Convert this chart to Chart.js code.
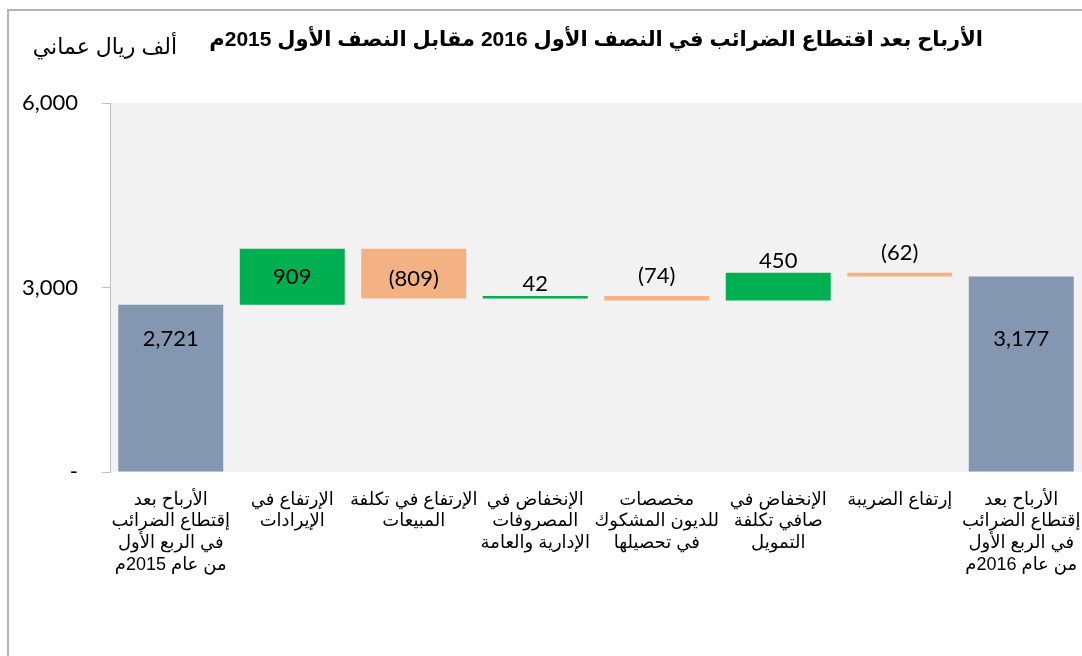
<!DOCTYPE html>
<html>
<head>
<meta charset="utf-8">
<script src="https://cdn.jsdelivr.net/npm/chart.js@4.4.1/dist/chart.umd.min.js"></script>
<style>
  html, body { margin: 0; padding: 0; background: #fff; }
  #wrap { position: relative; width: 1082px; height: 656px; }
</style>
</head>
<body>
<div id="wrap"><canvas id="chart" width="1082" height="656"></canvas></div>
<script>
const chartTitle = 'الأرباح بعد اقتطاع الضرائب في النصف الأول 2016 مقابل النصف الأول 2015م';
const unitLabel = 'ألف ريال عماني';

const categories = [
  ['الأرباح بعد', 'إقتطاع الضرائب', 'في الربع الأول', 'من عام 2015م'],
  ['الإرتفاع في', 'الإيرادات'],
  ['الإرتفاع في تكلفة', 'المبيعات'],
  ['الإنخفاض في', 'المصروفات', 'الإدارية والعامة'],
  ['مخصصات', 'للديون المشكوك', 'في تحصيلها'],
  ['الإنخفاض في', 'صافي تكلفة', 'التمويل'],
  ['إرتفاع الضريبة'],
  ['الأرباح بعد', 'إقتطاع الضرائب', 'في الربع الأول', 'من عام 2016م']
];
// 'total' bars start from zero, 'delta' bars float on the running total
const barKinds = ['total', 'delta', 'delta', 'delta', 'delta', 'delta', 'delta', 'total'];
const values = [2721, 909, -809, 42, -74, 450, -62, 3177];
const yTicks = [0, 3000, 6000];

const colors = { total: '#8497b0', up: '#00b050', down: '#f4b183' };

// floating ranges for the waterfall
let running = 0;
const ranges = values.map((v, i) => {
  if (barKinds[i] === 'total') { running = v; return [0, v]; }
  const from = running;
  running += v;
  return [from, running];
});
const barColors = values.map((v, i) =>
  barKinds[i] === 'total' ? colors.total : (v >= 0 ? colors.up : colors.down));

const fmt = v => {
  const s = Math.abs(v).toLocaleString('en-US');
  return v < 0 ? '(' + s + ')' : s;
};

const numFont = "Lato, 'Open Sans', sans-serif";
const arFont = "'Liberation Sans', 'DejaVu Sans', sans-serif";

const decorPlugin = {
  id: 'decor',
  beforeDraw(chart) {
    const { ctx, chartArea: a } = chart;
    ctx.save();
    ctx.fillStyle = '#f2f2f2';
    ctx.fillRect(a.left, a.top, a.right - a.left, a.bottom - a.top);
    // outer frame (left and top edges visible)
    ctx.strokeStyle = '#b3b3b3';
    ctx.lineWidth = 2;
    ctx.beginPath();
    ctx.moveTo(8, chart.height);
    ctx.lineTo(8, 10);
    ctx.lineTo(chart.width, 10);
    ctx.stroke();
    // title and unit
    ctx.fillStyle = '#000';
    ctx.textBaseline = 'middle';
    ctx.textAlign = 'right';
    ctx.font = "bold 21px " + arFont;
    ctx.fillText(chartTitle, 983, 40);
    ctx.font = "22px " + arFont;
    ctx.fillText(unitLabel, 177, 48);
    ctx.restore();
  },
  afterDatasetsDraw(chart) {
    const { ctx } = chart;
    const y = chart.scales.y;
    const meta = chart.getDatasetMeta(0);
    ctx.save();
    ctx.fillStyle = '#000';
    ctx.font = '22px ' + numFont;
    ctx.textAlign = 'center';
    ctx.textBaseline = 'middle';
    meta.data.forEach((bar, i) => {
      const top = Math.min(bar.y, bar.base);
      const h = Math.abs(bar.base - bar.y);
      let ly;
      if (barKinds[i] === 'total') ly = y.getPixelForValue(2170);
      else if (h >= 35) ly = top + h / 2 + (values[i] < 0 ? 5 : 0);
      else ly = top - (values[i] < 0 ? 20 : 12);
      ctx.fillText(fmt(values[i]), bar.x, ly);
    });
    ctx.restore();
  }
};

new Chart(document.getElementById('chart'), {
  type: 'bar',
  data: {
    labels: categories,
    datasets: [{
      data: ranges,
      backgroundColor: barColors,
      borderWidth: 0,
      barPercentage: 0.864,
      categoryPercentage: 1
    }]
  },
  options: {
    responsive: false,
    animation: false,
    layout: { padding: { top: 103, left: 0, right: 0, bottom: 0 } },
    plugins: { legend: { display: false }, tooltip: { enabled: false } },
    scales: {
      x: {
        grid: { display: false },
        border: { display: false },
        ticks: {
          autoSkip: false, maxRotation: 0, minRotation: 0, padding: 9,
          color: '#000',
          font: { size: 18, family: arFont, lineHeight: 1.2 }
        },
        afterFit: s => { s.height = 184; s.paddingLeft = 0; s.paddingRight = 0; }
      },
      y: {
        min: 0, max: 6000,
        afterBuildTicks: s => { s.ticks = yTicks.map(v => ({ value: v })); },
        grid: { drawOnChartArea: false, drawTicks: true, tickLength: 8, color: '#bfbfbf' },
        border: { display: true, color: '#bfbfbf', width: 1 },
        ticks: {
          padding: 24, color: '#000',
          font: { size: 22, family: numFont },
          callback: v => v === 0 ? '-' : v.toLocaleString('en-US')
        },
        afterFit: s => { s.width = 110; }
      }
    }
  },
  plugins: [decorPlugin]
});
</script>
</body>
</html>
